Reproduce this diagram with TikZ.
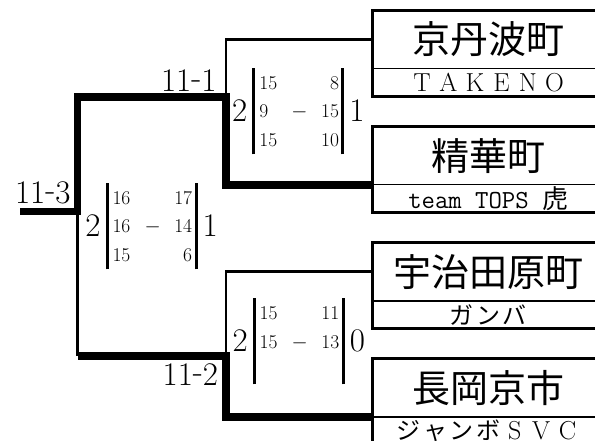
\documentclass[tikz,border=0pt]{standalone}
\usepackage{fontspec}
\usepackage{array}
\usetikzlibrary{positioning}
\newfontfamily\jpfont{Noto Sans CJK JP}
\setlength\extrarowheight{3.2pt}
\newcommand{\fw}[1]{\makebox[26.5pt]{#1}}
\newcommand{\matchdash}{\raisebox{0.09em}{-}}
\newcommand{\bigpt}[1]{\raisebox{-3.6pt}[0pt][0pt]{\fontsize{33}{33}\selectfont #1}}
\newcommand{\scoretab}[8]{%
  \begin{tabular}{@{}c@{\hspace{5pt}\vrule width 3pt\hspace{4pt}}p{32pt}@{}c@{}>{\raggedleft\arraybackslash}p{31.5pt}@{\hspace{2.5pt}\vrule width 3pt\hspace{5pt}}c@{}}
    & #3 & & #4 & \\
    \bigpt{#1} & #5 & $-$ & #6 & \bigpt{#2} \\
    & #7 & & #8 &
  \end{tabular}}
\tikzset{
  win/.style={line width=7.5pt},
  lose/.style={line width=2.5pt},
  frame/.style={line width=3pt},
  divider/.style={line width=1.2pt},
  teamname/.style={inner sep=0pt, minimum height=58pt, minimum width=232pt,
    font=\jpfont\fontsize{38}{40}\selectfont},
  club/.style={inner sep=0pt, minimum height=27.5pt, minimum width=232pt,
    font=\fontsize{26}{28}\selectfont},
  kana/.style={font=\jpfont\fontsize{24}{26}\selectfont},
  matchno/.style={inner sep=0pt, font=\fontsize{33}{36}\selectfont},
  scorebox/.style={inner sep=0pt, font=\fontsize{19.5}{25.5}\selectfont}
}
\begin{document}
\begin{tikzpicture}[x=1pt, y=-1pt, line join=miter]
    \useasboundingbox (0,0) rectangle (595,441);

    % teams
    \node[teamname, anchor=north west] (kyotamba) at (372,10.3) {京丹波町};
    \node[club, below=0pt of kyotamba] (takeno) {\fw{T}\fw{A}\fw{K}\fw{E}\fw{N}\fw{O}};
    \node[teamname, below=29.8pt of takeno] (seika) {精華町};
    \node[club, below=0pt of seika] (tops) {\ttfamily team TOPS {\jpfont 虎}};
    \node[teamname, below=29.8pt of tops] (ujitawara) {宇治田原町};
    \node[club, kana, below=0pt of ujitawara] (ganba) {\fw{ガ}\fw{ン}\fw{バ}};
    \node[teamname, below=29.8pt of ganba] (nagaokakyo) {長岡京市};
    \node[club, below=0pt of nagaokakyo] (jumbo)
        {{\jpfont\fontsize{24}{26}\selectfont\fw{ジ}\fw{ャ}\fw{ン}\fw{ボ}}\fw{S}\fw{V}\fw{C}};

    \foreach \a/\b in {kyotamba/takeno, seika/tops, ujitawara/ganba, nagaokakyo/jumbo} {
        \draw[frame] (\a.north east) -- (\a.north west) -- (\b.south west) -- (\b.south east);
        \draw[divider] (\a.south west) -- (\a.south east);
    }

    % bracket
    \coordinate (q1) at (226,97);
    \coordinate (q2) at (226,356);
    \coordinate (fin) at (77.5,211.5);
    \coordinate (champ) at (20,211.5);

    \draw[lose] (kyotamba.west) -| (q1);
    \draw[lose] (ujitawara.west) -| (q2);
    \draw[lose] (fin) -- (fin |- q2);
    \draw[win] (seika.south west) -| (q1) -| (fin) -- (champ);
    \draw[win] (fin |- q2) -- (q2) |- (nagaokakyo.south west);

    \node[matchno, above left=5.3pt and 9.3pt of q1] (m1) {11\matchdash 1};
    \node[matchno, below left=7.3pt and 7.7pt of q2] (m2) {11\matchdash 2};
    \node[matchno, above left=7.5pt and 6.8pt of fin] (m3) {11\matchdash 3};

    % scores
    \node[scorebox] (sc1) at (298.4,111.3) {\scoretab{2}{1}{15}{8}{9}{15}{15}{10}};
    \node[scorebox] (sc2) at (298.8,341.3) {\scoretab{2}{0}{15}{11}{15}{13}{}{}};
    \node[scorebox] (sc3) at (151.6,226.3) {\scoretab{2}{1}{16}{17}{16}{14}{15}{6}};
\end{tikzpicture}
\end{document}
